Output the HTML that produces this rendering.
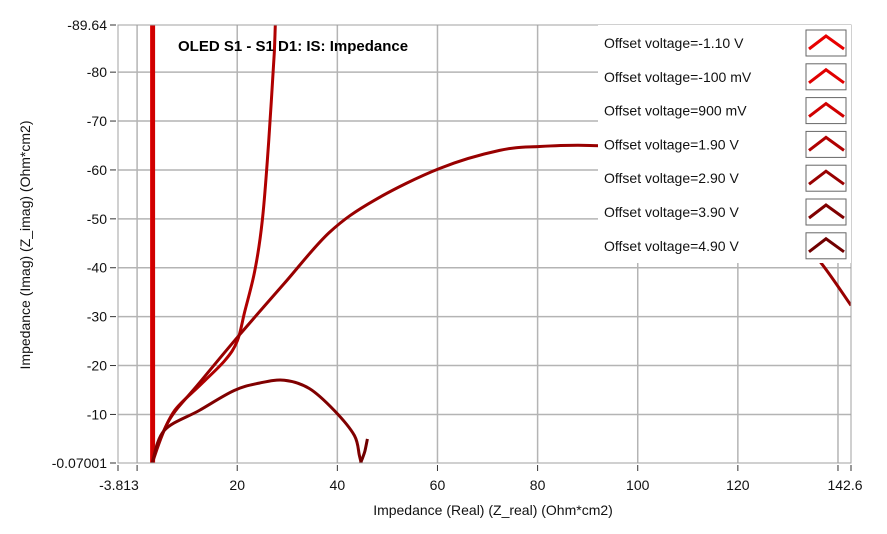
<!DOCTYPE html>
<html><head><meta charset="utf-8"><style>
body{margin:0;background:#fff;}
svg{display:block;font-family:"Liberation Sans",Arial,sans-serif;}
</style></head><body>
<svg id="chart" width="887" height="534" xmlns="http://www.w3.org/2000/svg">
<rect width="887" height="534" fill="#fff"/>
<g id="grid"></g>
<g id="series"></g>
<rect x="118" y="25" width="733" height="438" fill="none" stroke="#a0a0a0"/>
<g id="axes"></g>
<text x="178" y="51" font-size="15" font-weight="bold" fill="#000">OLED S1 - S1 D1: IS: Impedance</text>
<text x="493" y="515" font-size="14" text-anchor="middle" fill="#111">Impedance (Real) (Z_real) (Ohm*cm2)</text>
<text transform="translate(30,245) rotate(-90)" font-size="14" text-anchor="middle" fill="#111">Impedance (Imag) (Z_imag) (Ohm*cm2)</text>
<g id="legend"></g>
</svg>
<script>
const xTicks=[0,20,40,60,80,100,120,140];
const xTickLabels=["","20","40","60","80","100","120",""];
const yTicks=[10,20,30,40,50,60,70,80];
const yTickLabels=["-10","-20","-30","-40","-50","-60","-70","-80"];
const seriesNames=["Offset voltage=-1.10 V","Offset voltage=-100 mV","Offset voltage=900 mV","Offset voltage=1.90 V","Offset voltage=2.90 V","Offset voltage=3.90 V","Offset voltage=4.90 V"];
const seriesColors=["#e80000","#e00000","#d00000","#b00000","#980000","#800000","#700000"];
const s1x=[3,3], s1y=[0,89.64];
const s2x=[3.1,3.1], s2y=[0,89.64];
const s3x=[3.2,3.2], s3y=[0,89.64];
const s4x=[3,4.5,7.5,12.5,17.5,20,21.5,23.5,25,26,26.8,27.4,27.6];
const s4y=[0,4.7,10.8,15.9,21,25,31,39.3,49.5,61.8,74,84,89.6];
const s5x=[3,6.4,12.4,20.4,29.4,38.4,47.4,60.4,72.4,80.4,90.4,100,115,128,135.4,142.6];
const s5y=[0,8.8,16.4,26.2,36.8,47.2,53.8,60.3,64,64.8,65,64,58,49,42.5,32.3];
const s6x=[3,5.4,12.4,19.4,24.4,29.4,34.4,39.4,43.4,44.4,44.8];
const s6y=[0,6.7,10.8,14.9,16.4,17,15.3,10.8,5.7,1.6,0];
const s7x=[44.6,45,45.5,46];
const s7y=[0,1,2.5,5];
const X0=-3.813,X1=142.6,Y0=0.07001,Y1=89.64;
const L=118,R=851,T=25,B=463;
function sx(v){return L+(v-X0)/(X1-X0)*(R-L);}
function sy(v){return B-(v-Y0)/(Y1-Y0)*(B-T);}
const NS="http://www.w3.org/2000/svg";
function mk(tag,attrs,parent,txt){const e=document.createElementNS(NS,tag);for(const k in attrs)e.setAttribute(k,attrs[k]);if(txt!==undefined)e.textContent=txt;parent.appendChild(e);return e;}
function smooth(pts){
 if(pts.length<3)return pts.map((p,j)=>(j?'L':'M')+p[0].toFixed(1)+','+p[1].toFixed(1)).join(' ');
 let d='M'+pts[0][0].toFixed(1)+','+pts[0][1].toFixed(1);
 for(let i=0;i<pts.length-1;i++){
  const p0=pts[Math.max(0,i-1)],p1=pts[i],p2=pts[i+1],p3=pts[Math.min(pts.length-1,i+2)];
  const c1=[p1[0]+(p2[0]-p0[0])/6,p1[1]+(p2[1]-p0[1])/6],c2=[p2[0]-(p3[0]-p1[0])/6,p2[1]-(p3[1]-p1[1])/6];
  d+=` C${c1[0].toFixed(1)},${c1[1].toFixed(1)} ${c2[0].toFixed(1)},${c2[1].toFixed(1)} ${p2[0].toFixed(1)},${p2[1].toFixed(1)}`;
 }
 return d;
}
const grid=document.getElementById('grid'),axes=document.getElementById('axes'),ser=document.getElementById('series'),leg=document.getElementById('legend');
xTicks.forEach((v,i)=>{
 const g=mk('line',{x1:sx(v),x2:sx(v),y1:T,y2:B,stroke:'#b4b4b4','stroke-width':1.5},grid);
 
 const t=mk('line',{x1:sx(v),x2:sx(v),y1:B+2,y2:B+8,stroke:'#333'},axes);
 
 const lb=mk('text',{x:sx(v),y:B+27,'font-size':14,'text-anchor':'middle',fill:'#111'},axes,xTickLabels[i]);
 
});
[[X0,"-3.813","middle"],[X1,"142.6","middle"]].forEach(a=>{
 const t=mk('line',{x1:sx(a[0]),x2:sx(a[0]),y1:B+2,y2:B+8,stroke:'#333'},axes);
 
 const lb=mk('text',{x:sx(a[0])+(a[0]==X0?1:-6),y:B+27,'font-size':14,'text-anchor':a[2],fill:'#111'},axes,a[1]);
 
});
yTicks.forEach((v,i)=>{
 const g=mk('line',{x1:L,x2:R,y1:sy(v),y2:sy(v),stroke:'#b4b4b4','stroke-width':1.5},grid);
 
 const t=mk('line',{x1:L-8,x2:L-2,y1:sy(v),y2:sy(v),stroke:'#333'},axes);
 
 const lb=mk('text',{x:L-11,y:sy(v)+5,'font-size':14,'text-anchor':'end',fill:'#111'},axes,yTickLabels[i]);
 
});
[[Y0,"-0.07001"],[Y1,"-89.64"]].forEach(a=>{
 const t=mk('line',{x1:L-8,x2:L-2,y1:sy(a[0]),y2:sy(a[0]),stroke:'#333'},axes);
 
 const lb=mk('text',{x:L-11,y:sy(a[0])+5,'font-size':14,'text-anchor':'end',fill:'#111'},axes,a[1]);
 
});
const allX=[s1x,s2x,s3x,s4x,s5x,s6x,s7x],allY=[s1y,s2y,s3y,s4y,s5y,s6y,s7y];
const clip=mk('clipPath',{id:'pc'},ser);mk('rect',{x:L,y:T,width:R-L,height:B-T},clip);
allX.forEach((xs,i)=>{
 const pts=xs.map((x,j)=>[sx(x),sy(allY[i][j])]);
 const p=mk('path',{d:smooth(pts),fill:'none',stroke:seriesColors[i],'stroke-width':i<3?4:3,'stroke-linejoin':'round','clip-path':'url(#pc)'},ser);
 
});
const bg=mk('rect',{x:598,y:25,width:253,height:238,fill:'#fff'},leg);

seriesNames.forEach((n,i)=>{
 const cy=43+i*33.8;
 const t=mk('text',{x:604,y:cy+5,'font-size':14,fill:'#111'},leg,n);
 
 const b=mk('rect',{x:806,y:cy-13,width:40,height:26,fill:'#fff',stroke:'#666'},leg);
 
 const p=mk('path',{d:`M809,${cy+6} L826,${cy-7} L844,${cy+6}`,fill:'none',stroke:seriesColors[i],'stroke-width':3},leg);
 
});
</script>
</body></html>
